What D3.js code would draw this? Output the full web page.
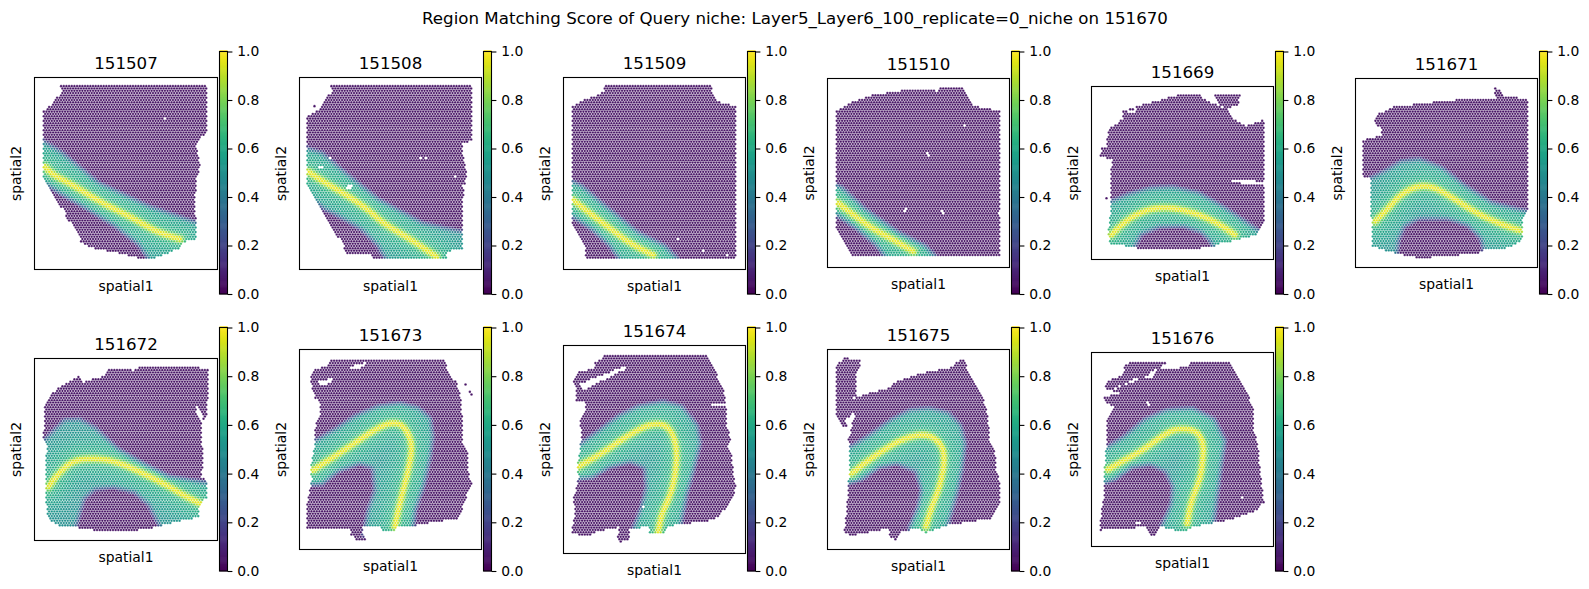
<!DOCTYPE html>
<html>
<head>
<meta charset="utf-8">
<script src="https://cdn.jsdelivr.net/npm/d3@7/dist/d3.min.js"></script>
<style>
  html, body { margin: 0; padding: 0; background: #fff; }
  svg { display: block; }
  text { font-family: "DejaVu Sans", sans-serif; fill: #000; }
</style>
</head>
<body>
<script>
// Sample names, in panel order.
const sampleIds = ["151507","151508","151509","151510","151669","151671",
                   "151672","151673","151674","151675","151676"];

// Extent of each panel in spatial units: [x0, x1, y0, y1].
const extents = [
  [103,653,112,688],[58,605,112,688],[70,617,112,688],[82,629,115,683],[95,641,139,659],[106,653,115,683],
  [103,653,145,691],[58,605,118,718],[70,617,106,730],[82,629,118,718],[95,641,127,709]
];

// Tissue outlines in spatial units.
const outlines = [
  [[183,138],[622,138],[622,280],[598,295],[590,320],[597,350],[600,380],[590,420],[583,500],[590,540],[590,600],[545,605],[540,625],[500,640],[450,658],[400,650],[360,640],[300,628],[270,620],[240,605],[240,595],[200,530],[190,510],[160,470],[130,420],[128,290],[130,215],[150,195],[185,155]],
  [[152,138],[577,138],[577,300],[550,310],[550,350],[560,400],[550,470],[547,520],[547,630],[500,632],[500,658],[290,658],[270,645],[195,645],[190,610],[165,580],[150,550],[130,520],[100,470],[82,430],[82,230],[120,205],[130,180],[155,155]],
  [[193,138],[518,138],[518,165],[530,185],[590,197],[590,655],[137,655],[135,625],[115,590],[95,545],[95,200],[130,180],[170,165],[193,150]],
  [[110,210],[155,185],[230,160],[250,160],[290,155],[310,148],[375,150],[410,152],[420,140],[490,145],[495,160],[520,195],[555,205],[600,210],[600,652],[155,650],[145,625],[130,600],[108,565]],
  [[358,163],[540,163],[535,195],[505,205],[520,235],[555,258],[612,238],[612,540],[590,585],[545,597],[480,610],[460,622],[345,630],[230,625],[150,610],[145,580],[155,490],[155,380],[160,360],[120,347],[125,325],[140,320],[145,270],[190,235],[190,215],[240,195],[300,180]],
  [[527,142],[545,150],[555,170],[625,175],[625,510],[610,530],[610,600],[560,625],[490,630],[480,640],[300,655],[250,645],[190,630],[155,620],[155,545],[150,470],[152,415],[130,410],[130,300],[185,285],[185,265],[160,245],[170,225],[220,200],[310,190],[400,180],[530,175],[522,150]],
  [[320,180],[340,175],[400,180],[425,170],[590,170],[625,178],[622,325],[605,328],[605,390],[610,440],[605,500],[620,515],[622,560],[600,580],[595,620],[470,650],[415,660],[300,663],[235,652],[170,645],[140,620],[140,590],[135,540],[140,400],[128,380],[135,350],[135,280],[165,240],[215,210],[235,198],[250,215],[280,205],[310,200]],
  [[150,147],[490,147],[510,190],[530,220],[545,270],[548,400],[565,430],[565,480],[575,520],[560,560],[545,600],[530,625],[410,645],[355,650],[345,665],[310,665],[300,645],[270,650],[245,650],[255,688],[225,688],[210,670],[215,655],[82,658],[82,575],[95,510],[90,470],[105,400],[105,350],[120,310],[120,280],[105,265],[90,210],[100,180],[145,165]],
  [[190,133],[495,133],[520,170],[550,240],[562,290],[560,350],[572,380],[565,410],[578,440],[578,470],[588,530],[575,570],[560,590],[535,620],[500,635],[430,640],[380,650],[370,672],[330,672],[325,650],[270,655],[270,690],[240,695],[230,680],[240,650],[165,665],[145,680],[95,668],[105,610],[100,570],[115,500],[110,480],[118,430],[125,370],[118,340],[130,310],[140,280],[110,270],[110,235],[97,210],[115,185],[160,175],[165,155],[185,150]],
  [[132,143],[185,150],[170,190],[170,260],[260,235],[300,210],[360,190],[460,170],[465,155],[490,148],[510,190],[540,240],[560,300],[565,340],[570,390],[585,430],[590,480],[600,520],[600,580],[590,600],[575,625],[540,630],[440,645],[410,655],[375,668],[350,655],[300,665],[285,690],[270,680],[265,655],[160,675],[132,670],[140,600],[145,520],[150,430],[145,385],[160,340],[128,350],[108,320],[108,170]],
  [[210,155],[318,155],[300,180],[385,170],[390,155],[505,155],[525,185],[560,240],[580,300],[582,360],[595,410],[600,470],[612,575],[590,600],[540,620],[490,632],[400,650],[375,665],[300,650],[280,680],[270,675],[260,650],[120,660],[125,610],[135,540],[135,460],[140,400],[140,340],[160,290],[135,275],[130,262],[180,250],[135,235],[140,215],[195,190],[190,170]]
];

// Tears and slits inside the tissue where no spot was captured.
const tears = [
  [],[],[],[],
  [[[495,418],[560,418],[616,428],[616,437],[550,433]],[[200,215],[235,205],[235,213],[205,220]],[[418,158],[460,158],[490,205],[470,195],[440,180],[425,178]]],
  [],
  [[[585,290],[595,290],[610,325],[600,328]]],
  [[[115,215],[170,200],[140,225],[120,228]],[[210,170],[265,155],[240,175],[215,175]]],
  [[[120,220],[250,170],[260,175],[130,240]],[[517,280],[560,283],[560,290],[517,287]]],
  [[[135,330],[165,305],[160,335],[145,345]],[[155,260],[165,260],[160,275]]],
  [[[150,240],[228,205],[235,208],[170,235]],[[255,200],[300,170],[280,205],[255,205]]]
];

// Single spots missing from the array.
const missingSpots = [
  [[493,233]],
  [[147,355],[122,380],[203,440],[211,440],[423,353],[438,353],[523,407],[547,435]],
  [[412,596],[493,630],[564,643]],
  [[495,257],[383,343],[316,510],[428,517],[595,520]],
  [],[],[],[],
  [[312,588]],
  [],
  [[266,281],[544,562],[235,638]]
];

// Isolated spots lying off the main tissue.
const strayPoints = [
  [],[[103,198]],[],[],[[140,475]],[],[],[[557,223],[570,245],[575,253]],[],[],[]
];

// Outer limit of the scoring band in each sample.
const bands = [
  [[95,270],[190,330],[300,420],[450,490],[640,555],[640,650],[450,690],[430,650],[410,620],[340,565],[250,510],[180,470],[135,440],[95,420]],
  [[50,305],[130,330],[200,390],[300,470],[430,540],[590,575],[590,690],[325,690],[285,620],[240,575],[170,535],[130,515],[50,450]],
  [[60,395],[130,430],[200,490],[300,570],[380,610],[460,690],[250,690],[200,620],[150,575],[60,515]],
  [[70,410],[130,435],[200,500],[300,570],[380,610],[460,690],[275,690],[220,620],[160,570],[70,510]],
  [[105,495],[200,455],[270,435],[340,432],[420,450],[490,490],[550,530],[640,590],[640,650],[470,660],[445,610],[420,585],[370,568],[300,570],[250,590],[215,660],[105,650]],
  [[110,425],[190,385],[240,355],[300,348],[370,375],[440,430],[520,480],[660,515],[660,650],[490,670],[475,600],[440,565],[380,545],[300,545],[260,565],[245,600],[235,680],[110,670]],
  [[95,415],[160,350],[190,320],[240,318],[290,345],[360,410],[440,455],[510,490],[660,515],[660,640],[485,680],[460,630],[440,590],[400,555],[340,540],[290,545],[260,570],[228,680],[95,670]],
  [[60,400],[100,385],[160,350],[220,310],[290,280],[360,270],[420,285],[460,320],[468,380],[460,440],[440,530],[415,600],[405,690],[300,700],[240,680],[255,600],[275,540],[270,480],[240,470],[180,490],[130,530],[60,535]],
  [[75,405],[115,395],[170,355],[230,310],[290,280],[370,265],[430,280],[480,340],[490,400],[470,480],[450,550],[425,680],[320,700],[265,670],[295,590],[310,530],[305,480],[270,465],[210,480],[160,510],[75,520]],
  [[110,415],[150,400],[200,370],[270,320],[330,290],[390,285],[450,300],[490,340],[505,400],[495,480],[480,550],[440,690],[320,700],[320,650],[345,590],[355,540],[340,490],[290,470],[240,480],[190,515],[110,540]],
  [[100,415],[135,405],[190,370],[250,320],[320,290],[400,285],[470,320],[505,390],[490,490],[465,690],[300,700],[295,650],[325,580],[330,530],[310,490],[270,472],[220,480],[170,515],[100,540]]
];

// Crest of the score, where it reaches its maximum.
const ridges = [
  [[135,380],[160,405],[210,430],[300,485],[400,535],[470,575],[540,597]],
  [[85,395],[130,425],[200,465],[260,505],[310,550],[380,590],[470,650]],
  [[100,480],[150,520],[210,565],[270,610],[340,645]],
  [[112,488],[160,525],[215,565],[280,600],[340,635]],
  [[155,585],[190,550],[235,520],[290,503],[350,505],[430,528],[490,560],[525,585]],
  [[165,545],[200,510],[240,465],[290,438],[340,440],[400,475],[470,520],[540,552],[600,572]],
  [[145,530],[175,490],[220,450],[290,445],[350,455],[420,485],[500,525],[550,555],[600,580]],
  [[100,480],[125,463],[170,435],[230,395],[290,355],[340,335],[375,350],[397,400],[390,460],[370,540],[355,600],[345,650]],
  [[115,470],[140,455],[185,430],[250,385],[320,345],[370,340],[400,370],[412,430],[405,500],[390,560],[365,610],[355,665]],
  [[155,490],[195,458],[250,420],[310,385],[380,370],[425,400],[435,450],[420,530],[395,590],[378,650]],
  [[145,478],[185,455],[250,420],[310,375],[350,355],[410,360],[432,400],[428,460],[420,510],[395,570],[382,640]]
];

// Score read across the band, by distance from the crest in spatial units.
const crestDistance = [0, 6, 12, 20, 50, 90, 220];
const crestScore    = [0.98, 0.92, 0.74, 0.62, 0.56, 0.5, 0.45];
const backgroundScore = 0.05;
const colorbarTicks = [0, 0.2, 0.4, 0.6, 0.8, 1];

// Figure layout.
const W = 1589, H = 589;
const colX = [[34.5,217.5],[299.5,481.5],[563.5,745.5],[827.5,1009.5],[1091.5,1273.5],[1355.5,1537.5],
              [34.5,217.5],[299.5,481.5],[563.5,745.5],[827.5,1009.5],[1091.5,1273.5]];
const rowY = [[77.5,269.5],[77.5,269.5],[77.5,269.5],[78.5,267.5],[86.5,259.5],[78.5,267.5],
              [358.5,540.5],[349.5,549.5],[345.5,553.5],[349.5,549.5],[352.5,546.5]];
const barY = [[51.5,294],[327.5,571]];
const spotPitch = 8, rowPitch = 6.95;

const svg = d3.select("body").append("svg").attr("width", W).attr("height", H);

svg.append("text").attr("x", 795).attr("y", 24).attr("text-anchor", "middle")
   .style("font-size", "16.67px")
   .text("Region Matching Score of Query niche: Layer5_Layer6_100_replicate=0_niche on 151670");

function segDist(p, a, b) {
  const dx = b[0]-a[0], dy = b[1]-a[1];
  const t = Math.max(0, Math.min(1, ((p[0]-a[0])*dx + (p[1]-a[1])*dy) / (dx*dx + dy*dy)));
  return Math.hypot(p[0]-a[0]-t*dx, p[1]-a[1]-t*dy);
}
function pathDist(p, pts, closed) {
  let d = Infinity;
  for (let i = 0; i < pts.length - 1; i++) d = Math.min(d, segDist(p, pts[i], pts[i+1]));
  if (closed) d = Math.min(d, segDist(p, pts[pts.length-1], pts[0]));
  return d;
}

// Rounds the corners of a crest line by corner cutting, keeping its two ends.
function rounded(pts, passes) {
  let cur = pts;
  for (let k = 0; k < passes; k++) {
    const next = [cur[0]];
    for (let j = 0; j < cur.length - 1; j++) {
      const a = cur[j], b = cur[j+1];
      next.push([a[0]*0.75+b[0]*0.25, a[1]*0.75+b[1]*0.25]);
      next.push([a[0]*0.25+b[0]*0.75, a[1]*0.25+b[1]*0.75]);
    }
    next.push(cur[cur.length-1]);
    cur = next;
  }
  return cur;
}
const smoothRidges = ridges.map(r => rounded(r, 3));

const crestProfile = d3.scaleLinear().domain(crestDistance).range(crestScore).clamp(true);

function spotsFor(i) {
  const [x0, x1, y0, y1] = extents[i];
  const rows = d3.range(y0 + 26 - (y0 % 7), y1, rowPitch);
  const out = [];
  rows.forEach((y, r) => {
    const shift = r % 2 ? spotPitch / 2 : 0;
    for (let x = x0 + shift; x < x1; x += spotPitch) {
      const p = [x, y];
      if (!d3.polygonContains(outlines[i], p)) continue;
      if (tears[i].some(t => d3.polygonContains(t, p))) continue;
      if (missingSpots[i].some(m => Math.hypot(m[0]-x, m[1]-y) < 5)) continue;
      out.push(p);
    }
  });
  strayPoints[i].forEach(p => out.push(p));
  return out;
}

function scoreAt(i, p) {
  if (!d3.polygonContains(bands[i], p)) return backgroundScore;
  const edge = Math.min(1, pathDist(p, bands[i], true) / 20);
  const dCrest = pathDist(p, smoothRidges[i], false);
  const peak = crestProfile(dCrest);
  const ease = dCrest < 20 ? 1 : Math.pow(edge, 0.8);
  return backgroundScore + (peak - backgroundScore) * ease;
}

sampleIds.forEach((id, i) => {
  const [fx0, fx1] = colX[i], [fy0, fy1] = rowY[i];
  const [bTop, bBottom] = barY[i < 6 ? 0 : 1];
  const x = d3.scaleLinear().domain(extents[i].slice(0, 2)).range([fx0, fx1]);
  const y = d3.scaleLinear().domain(extents[i].slice(2, 4)).range([fy0, fy1]);
  const g = svg.append("g").attr("class", "panel");

  g.append("g").selectAll("circle").data(spotsFor(i)).join("circle")
    .attr("cx", d => x(d[0])).attr("cy", d => y(d[1]))
    .attr("r", 1.3)
    .attr("fill", d => d3.interpolateViridis(scoreAt(i, d)))
    .attr("stroke", "#fff").attr("stroke-width", 0.26);

  g.append("rect").attr("x", fx0).attr("y", fy0).attr("width", fx1-fx0).attr("height", fy1-fy0)
    .attr("fill", "none").attr("stroke", "#000").attr("stroke-width", 1.1);

  g.append("text").attr("x", (fx0+fx1)/2).attr("y", fy0-8.5).attr("text-anchor", "middle")
    .style("font-size", "16.67px").text(id);
  g.append("text").attr("x", (fx0+fx1)/2).attr("y", fy1+21).attr("text-anchor", "middle")
    .style("font-size", "13.89px").text("spatial1");
  g.append("text").attr("transform", `translate(${fx0-14},${(fy0+fy1)/2}) rotate(-90)`)
    .attr("text-anchor", "middle").style("font-size", "13.89px").text("spatial2");

  // Colour bar
  const bx = fx1 + 2, bw = 8;
  const cy = d3.scaleLinear().domain([0, 1]).range([bBottom, bTop]);
  const cbar = g.append("g");
  const steps = d3.range(256).map(k => k / 255);
  cbar.selectAll("rect").data(steps).join("rect")
    .attr("x", bx).attr("width", bw)
    .attr("y", d => cy(d) - (bBottom-bTop)/255 - 0.3)
    .attr("height", (bBottom-bTop)/255 + 0.6)
    .attr("fill", d => d3.interpolateViridis(d));
  cbar.append("rect").attr("x", bx).attr("y", bTop).attr("width", bw).attr("height", bBottom-bTop)
    .attr("fill", "none").attr("stroke", "#000").attr("stroke-width", 1.1);
  const axis = g.append("g").attr("transform", `translate(${bx+bw},0)`)
    .call(d3.axisRight(cy).tickValues(colorbarTicks).tickFormat(d3.format(".1f")).tickSize(4.9).tickPadding(4.9));
  axis.select(".domain").remove();
  axis.selectAll("line").attr("stroke", "#000").attr("stroke-width", 1.1);
  axis.selectAll("text").style("font-size", "13.89px");
});
</script>
</body>
</html>
